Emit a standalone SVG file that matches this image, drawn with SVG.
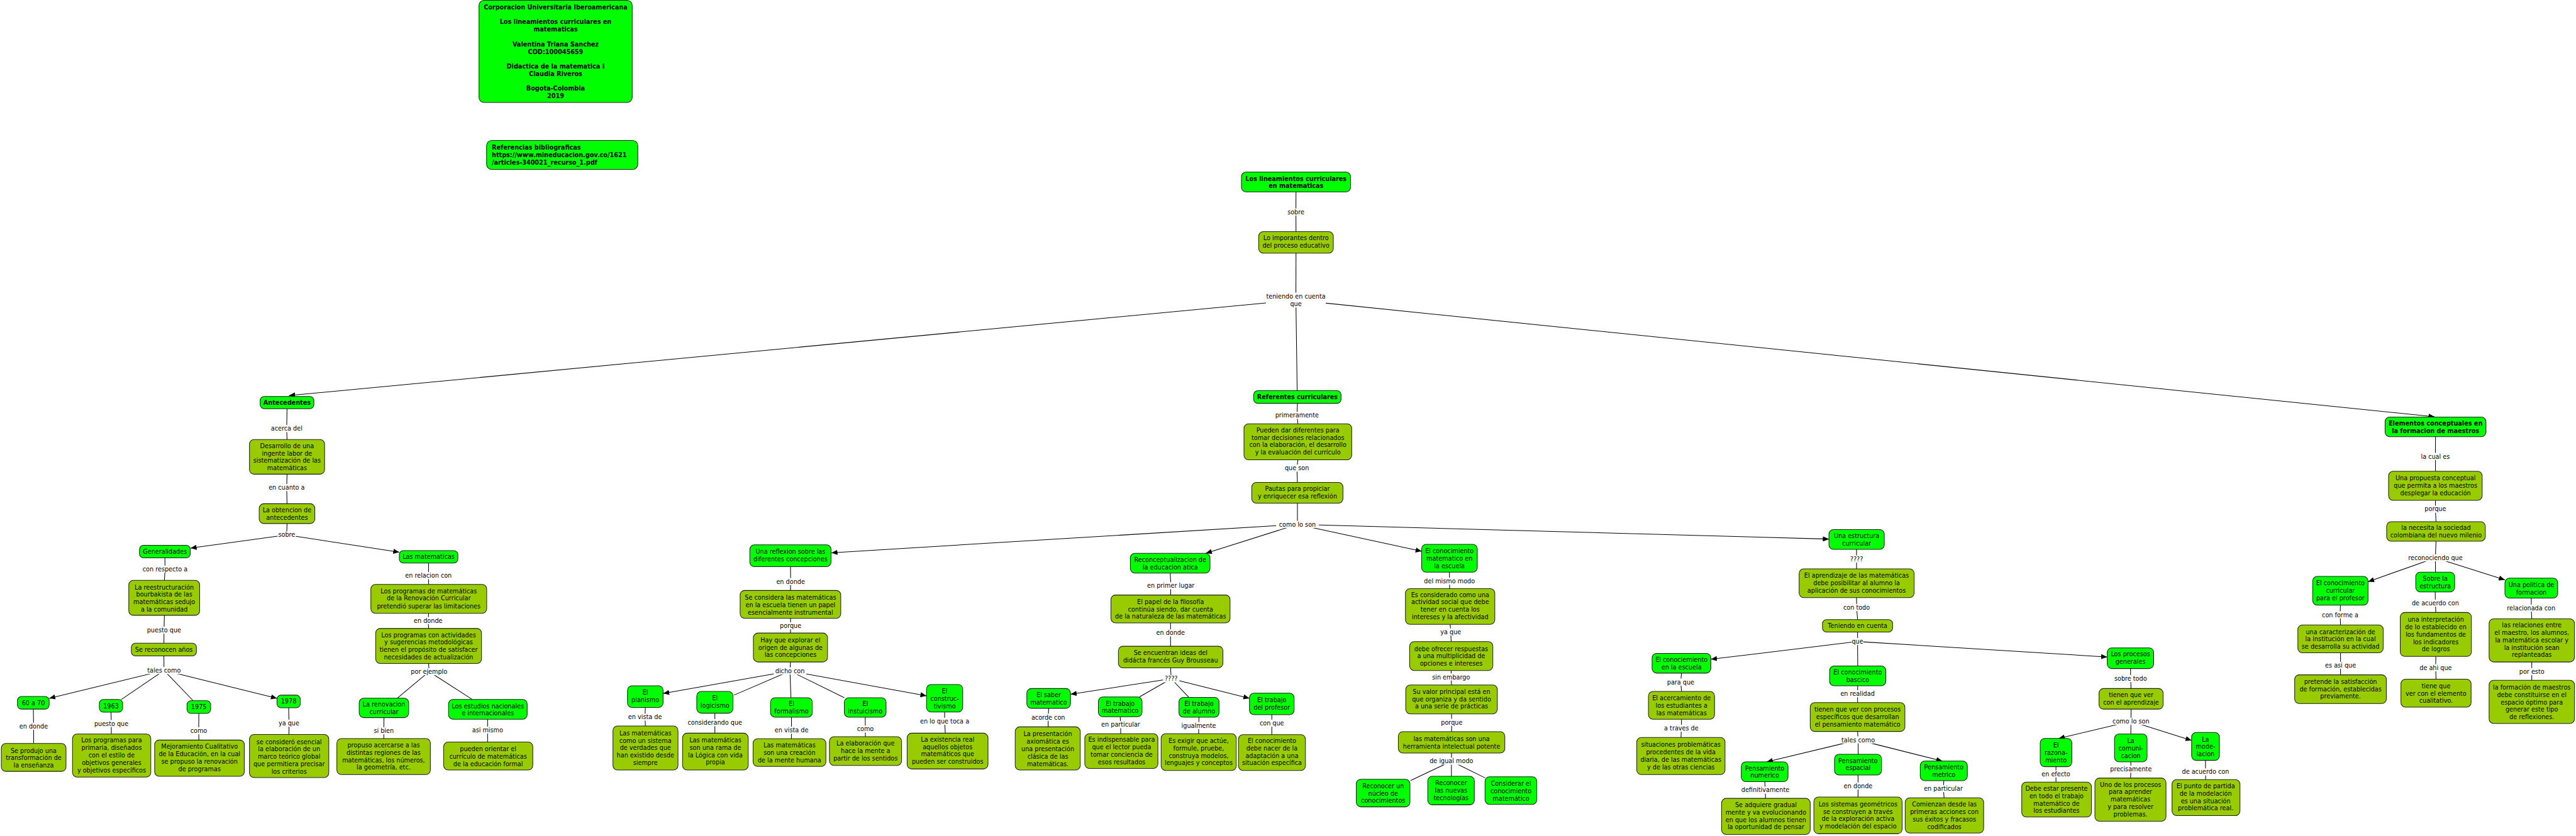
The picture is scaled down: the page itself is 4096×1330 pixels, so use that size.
<svg xmlns="http://www.w3.org/2000/svg" width="4096" height="1330" viewBox="0 0 4096 1330">
<defs>
<style>
.n1{fill:#00ff00;stroke:#1e1e1e;stroke-width:1.3}
.n2{fill:#99cc00;stroke:#1e1e1e;stroke-width:1.3}
text{font-family:"DejaVu Sans",Verdana,sans-serif;font-size:12px;fill:#000;text-anchor:middle}
.b{font-weight:bold}
.l{text-anchor:start}
.c{fill:none;stroke:#000;stroke-width:1.3}
.a{marker-end:url(#ah)}
.lb{fill:#fff}
</style>
<marker id="ah" markerWidth="12" markerHeight="10" refX="12" refY="5" orient="auto" markerUnits="userSpaceOnUse"><path d="M0,0L12,5L0,10z" fill="#000"/></marker>
</defs>
<rect x="0" y="0" width="4096" height="1330" fill="#fff"/>
<g transform="scale(0.8068)">
<g id="connectors">
<path class="c" d="M2554.2,378.3L2554,418L2554.2,456.7"/>
<path class="c" d="M2554.2,499.3L2554,591.7"/>
<path class="c a" d="M2554,591.7L569.5,780"/>
<path class="c" d="M2554,591.7L2556.5,770.3"/>
<path class="c a" d="M2554,591.7L4798,821.8"/>
<path class="c" d="M565.7,806L565,845L565.7,866.7"/>
<path class="c" d="M565.7,935L565,961.3L565.7,993.3"/>
<path class="c" d="M565.7,1032.3L565,1054.7"/>
<path class="c a" d="M565,1054.7L375.5,1080.8"/>
<path class="c a" d="M565,1054.7L787,1088.8"/>
<path class="c" d="M325,1100L325.3,1122.3L324,1144.3"/>
<path class="c" d="M324,1213.3L323.3,1242.7L323,1268.3"/>
<path class="c" d="M323,1293.3L323.3,1322"/>
<path class="c a" d="M323.3,1322L97,1377"/>
<path class="c" d="M323.3,1322L239,1379.3"/>
<path class="c" d="M323.3,1322L380.7,1381.7"/>
<path class="c a" d="M323.3,1322L545.9,1377"/>
<path class="c" d="M65.7,1398.3L66.3,1432L66.3,1466"/>
<path class="c" d="M218.8,1404.3L219.4,1426.7L219.4,1447.3"/>
<path class="c" d="M391.9,1406.7L391.6,1441L391.9,1459.3"/>
<path class="c" d="M568.9,1395.7L569.5,1426L569.5,1448.3"/>
<path class="c" d="M844.7,1110.3L844.4,1135L844.7,1152.3"/>
<path class="c" d="M844.7,1209.3L843.8,1223.7L844.7,1239.3"/>
<path class="c" d="M844.7,1308.3L845.7,1324.3"/>
<path class="c" d="M845.7,1324.3L783.2,1376.7"/>
<path class="c" d="M845.7,1324.3L931,1379.3"/>
<path class="c" d="M756.7,1415L756.4,1441L756.4,1456.3"/>
<path class="c" d="M961,1418.3L961,1439.7L961,1463.3"/>
<path class="c" d="M2557,795.3L2556.2,819L2557.9,835.7"/>
<path class="c" d="M2557.9,906.7L2556,923L2557,951.3"/>
<path class="c" d="M2557,992.3L2557,1034"/>
<path class="c a" d="M2557,1034L1638.5,1090"/>
<path class="c a" d="M2557,1034L2376.4,1091"/>
<path class="c a" d="M2557,1034L2801.8,1087"/>
<path class="c a" d="M2557,1034L3604.5,1063"/>
<path class="c" d="M1557.9,1117.3L1558.2,1146.7L1557.9,1164.3"/>
<path class="c" d="M1557.9,1219.3L1558.2,1234L1557.9,1248.3"/>
<path class="c" d="M1557.9,1305.3L1556.9,1323"/>
<path class="c a" d="M1556.9,1323L1307,1367.5"/>
<path class="c" d="M1556.9,1323L1446.6,1370.7"/>
<path class="c" d="M1556.9,1323L1558.8,1375.7"/>
<path class="c" d="M1556.9,1323L1664,1375.7"/>
<path class="c a" d="M1556.9,1323L1826,1372"/>
<path class="c" d="M1271.8,1395L1271.2,1414L1272,1431.7"/>
<path class="c" d="M1408.9,1406.3L1408.9,1425L1408.9,1445.7"/>
<path class="c" d="M1559.8,1414.3L1560,1440L1559.8,1456.7"/>
<path class="c" d="M1705.2,1414.3L1705.5,1437.7L1705.5,1452.7"/>
<path class="c" d="M1861.7,1404L1861.7,1422.3L1863,1445.7"/>
<path class="c" d="M2066.8,1396.7L2065.8,1414.3L2065.8,1433.3"/>
<path class="c" d="M2306.3,1130L2307.5,1155L2307,1173.3"/>
<path class="c" d="M2307,1228.3L2306.9,1248L2307,1274.3"/>
<path class="c" d="M2307,1317L2308.2,1338.3"/>
<path class="c a" d="M2308.2,1338.3L2110,1369"/>
<path class="c" d="M2308.2,1338.3L2245.7,1374.3"/>
<path class="c" d="M2308.2,1338.3L2343.2,1375.3"/>
<path class="c a" d="M2308.2,1338.3L2462.5,1377"/>
<path class="c" d="M2207.7,1413.3L2208.7,1429L2208.7,1446.7"/>
<path class="c" d="M2363,1414.3L2362.4,1430.7L2362.4,1446.7"/>
<path class="c" d="M2506.5,1409.3L2506.5,1426L2506.5,1448.7"/>
<path class="c" d="M2856.6,1128.3L2856.6,1146L2857,1160.7"/>
<path class="c" d="M2858,1231L2859.2,1246L2860,1265.3"/>
<path class="c" d="M2860,1322.3L2859.8,1335L2860.7,1350.7"/>
<path class="c" d="M2860.7,1407.7L2861.1,1424.3L2860.8,1442.7"/>
<path class="c" d="M2860.8,1485L2860.5,1501"/>
<path class="c" d="M2860.5,1501L2780,1539"/>
<path class="c" d="M2860.5,1501L2860.5,1530.7"/>
<path class="c" d="M2860.5,1501L2927,1534"/>
<path class="c" d="M3659,1083.3L3659,1102.3L3659,1121.7"/>
<path class="c" d="M3659,1178.3L3659,1198L3661,1221.7"/>
<path class="c" d="M3661,1246.3L3660.9,1265"/>
<path class="c a" d="M3660.9,1265L3371.8,1300"/>
<path class="c" d="M3660.9,1265L3661.3,1313.3"/>
<path class="c a" d="M3660.9,1265L4153,1295.5"/>
<path class="c" d="M3313.9,1327.3L3312.4,1345L3314,1363.3"/>
<path class="c" d="M3314,1418.3L3313.6,1436L3313,1454.3"/>
<path class="c" d="M3661.2,1352.3L3660.9,1368L3661,1385.3"/>
<path class="c" d="M3661,1442.3L3662.1,1459"/>
<path class="c a" d="M3662.1,1459L3482,1502.3"/>
<path class="c" d="M3662.1,1459L3662.2,1487.3"/>
<path class="c a" d="M3662.1,1459L3828,1500.7"/>
<path class="c" d="M3478,1541.3L3479.1,1558L3479.5,1574.3"/>
<path class="c" d="M3661.8,1528.3L3662.1,1550L3661.8,1571.7"/>
<path class="c" d="M3830.9,1539.3L3830,1555L3831.5,1573.3"/>
<path class="c" d="M4199,1318.3L4199,1338L4200,1357.7"/>
<path class="c" d="M4200,1398.3L4199.7,1422.3"/>
<path class="c a" d="M4199.7,1422.3L4057.3,1456"/>
<path class="c" d="M4199.7,1422.3L4199.5,1447.3"/>
<path class="c a" d="M4199.7,1422.3L4319.3,1460"/>
<path class="c" d="M4052,1511.7L4051.8,1526L4052,1542.3"/>
<path class="c" d="M4199.4,1502.3L4199.7,1516.7L4199,1534.3"/>
<path class="c" d="M4346.7,1499.3L4346.7,1522L4347,1537.3"/>
<path class="c" d="M4800,861L4799.7,900L4800,929.3"/>
<path class="c" d="M4800,986.7L4799.7,1004L4801,1028.7"/>
<path class="c" d="M4801,1067.3L4799.7,1100"/>
<path class="c a" d="M4799.7,1100L4667,1147"/>
<path class="c" d="M4799.7,1100L4800,1128.3"/>
<path class="c a" d="M4799.7,1100L4936.8,1143.5"/>
<path class="c" d="M4612.5,1193.3L4612.1,1212.3L4612.8,1232.3"/>
<path class="c" d="M4612.8,1287.3L4612.8,1312L4612.8,1330.7"/>
<path class="c" d="M4799.4,1167.3L4799.7,1189.3L4800.6,1207.7"/>
<path class="c" d="M4800.6,1294.3L4800.3,1316.7L4801,1339.3"/>
<path class="c" d="M4988.8,1179.3L4988.5,1199L4989.7,1220.3"/>
<path class="c" d="M4989.7,1305.3L4989.7,1324.3L4989.7,1341.3"/>
<g id="labels">
<rect class="lb" x="2536" y="411" width="36" height="14"/><text x="2554" y="422.3">sobre</text>
<rect class="lb" x="2495" y="577" width="118" height="29.5"/><text x="2554" y="588.3">teniendo en cuenta</text><text x="2554" y="603">que</text>
<rect class="lb" x="529.5" y="838" width="71" height="14"/><text x="565" y="849.3">acerca del</text>
<rect class="lb" x="526" y="954.3" width="78" height="14"/><text x="565" y="965.6">en cuanto a</text>
<rect class="lb" x="547" y="1047.7" width="36" height="14"/><text x="565" y="1059">sobre</text>
<rect class="lb" x="276" y="1115.3" width="99" height="14"/><text x="325.3" y="1126.6">con respecto a</text>
<rect class="lb" x="288" y="1235.7" width="71" height="14"/><text x="323.3" y="1247">puesto que</text>
<rect class="lb" x="288" y="1315" width="71" height="14"/><text x="323.3" y="1326.3">tales como</text>
<rect class="lb" x="38" y="1425" width="57" height="14"/><text x="66.3" y="1436.3">en donde</text>
<rect class="lb" x="184" y="1419.7" width="71" height="14"/><text x="219.4" y="1431">puesto que</text>
<rect class="lb" x="376.6" y="1434" width="30" height="14"/><text x="391.6" y="1445.3">como</text>
<rect class="lb" x="548" y="1419" width="43" height="14"/><text x="569.5" y="1430.3">ya que</text>
<rect class="lb" x="791.4" y="1128" width="106" height="14"/><text x="844.4" y="1139.3">en relacion con</text>
<rect class="lb" x="815.3" y="1216.7" width="57" height="14"/><text x="843.8" y="1228">en donde</text>
<rect class="lb" x="806.7" y="1317.3" width="78" height="14"/><text x="845.7" y="1328.6">por ejemplo</text>
<rect class="lb" x="731.4" y="1434" width="50" height="14"/><text x="756.4" y="1445.3">si bien</text>
<rect class="lb" x="929" y="1432.7" width="64" height="14"/><text x="961" y="1444">asi mismo</text>
<rect class="lb" x="2513.7" y="812" width="85" height="14"/><text x="2556.2" y="823.3">primeramente</text>
<rect class="lb" x="2531" y="916" width="50" height="14"/><text x="2556" y="927.3">que son</text>
<rect class="lb" x="2515" y="1027" width="84" height="14"/><text x="2557" y="1038.3">como lo son</text>
<rect class="lb" x="1529.7" y="1139.7" width="57" height="14"/><text x="1558.2" y="1151">en donde</text>
<rect class="lb" x="1536.7" y="1227" width="43" height="14"/><text x="1558.2" y="1238.3">porque</text>
<rect class="lb" x="1524.9" y="1316" width="64" height="14"/><text x="1556.9" y="1327.3">dicho con</text>
<rect class="lb" x="1232.2" y="1407" width="78" height="14"/><text x="1271.2" y="1418.3">en vista de</text>
<rect class="lb" x="1352.9" y="1418" width="112" height="14"/><text x="1408.9" y="1429.3">considerando que</text>
<rect class="lb" x="1521" y="1433" width="78" height="14"/><text x="1560" y="1444.3">en vista de</text>
<rect class="lb" x="1690.5" y="1430.7" width="30" height="14"/><text x="1705.5" y="1442">como</text>
<rect class="lb" x="1805.7" y="1415.3" width="112" height="14"/><text x="1861.7" y="1426.6">en lo que toca a</text>
<rect class="lb" x="2030.3" y="1407.3" width="71" height="14"/><text x="2065.8" y="1418.6">acorde con</text>
<rect class="lb" x="2254.5" y="1148" width="106" height="14"/><text x="2307.5" y="1159.3">en primer lugar</text>
<rect class="lb" x="2278.4" y="1241" width="57" height="14"/><text x="2306.9" y="1252.3">en donde</text>
<rect class="lb" x="2292.2" y="1331.3" width="32" height="14"/><text x="2308.2" y="1342.6">????</text>
<rect class="lb" x="2162.7" y="1422" width="92" height="14"/><text x="2208.7" y="1433.3">en particular</text>
<rect class="lb" x="2326.9" y="1423.7" width="71" height="14"/><text x="2362.4" y="1435">igualmente</text>
<rect class="lb" x="2481.5" y="1419" width="50" height="14"/><text x="2506.5" y="1430.3">con que</text>
<rect class="lb" x="2807.1" y="1139" width="99" height="14"/><text x="2856.6" y="1150.3">del mismo modo</text>
<rect class="lb" x="2837.7" y="1239" width="43" height="14"/><text x="2859.2" y="1250.3">ya que</text>
<rect class="lb" x="2820.8" y="1328" width="78" height="14"/><text x="2859.8" y="1339.3">sin embargo</text>
<rect class="lb" x="2839.6" y="1417.3" width="43" height="14"/><text x="2861.1" y="1428.6">porque</text>
<rect class="lb" x="2814.5" y="1494" width="92" height="14"/><text x="2860.5" y="1505.3">de igual modo</text>
<rect class="lb" x="3643" y="1095.3" width="32" height="14"/><text x="3659" y="1106.6">????</text>
<rect class="lb" x="3630.5" y="1191" width="57" height="14"/><text x="3659" y="1202.3">con todo</text>
<rect class="lb" x="3649.4" y="1258" width="23" height="14"/><text x="3660.9" y="1269.3">que</text>
<rect class="lb" x="3283.9" y="1338" width="57" height="14"/><text x="3312.4" y="1349.3">para que</text>
<rect class="lb" x="3274.6" y="1429" width="78" height="14"/><text x="3313.6" y="1440.3">a traves de</text>
<rect class="lb" x="3621.9" y="1361" width="78" height="14"/><text x="3660.9" y="1372.3">en realidad</text>
<rect class="lb" x="3626.6" y="1452" width="71" height="14"/><text x="3662.1" y="1463.3">tales como</text>
<rect class="lb" x="3426.1" y="1551" width="106" height="14"/><text x="3479.1" y="1562.3">definitivamente</text>
<rect class="lb" x="3633.6" y="1543" width="57" height="14"/><text x="3662.1" y="1554.3">en donde</text>
<rect class="lb" x="3784" y="1548" width="92" height="14"/><text x="3830" y="1559.3">en particular</text>
<rect class="lb" x="4019.8" y="1519" width="64" height="14"/><text x="4051.8" y="1530.3">en efecto</text>
<rect class="lb" x="4163.5" y="1331" width="71" height="14"/><text x="4199" y="1342.3">sobre todo</text>
<rect class="lb" x="4158.7" y="1415.3" width="82" height="14"/><text x="4199.7" y="1426.6">como lo son</text>
<rect class="lb" x="4157.2" y="1509.7" width="85" height="14"/><text x="4199.7" y="1521">precisamente</text>
<rect class="lb" x="4297.2" y="1515" width="99" height="14"/><text x="4346.7" y="1526.3">de acuerdo con</text>
<rect class="lb" x="4764.2" y="893" width="71" height="14"/><text x="4799.7" y="904.3">la cual es</text>
<rect class="lb" x="4778.2" y="997" width="43" height="14"/><text x="4799.7" y="1008.3">porque</text>
<rect class="lb" x="4743.7" y="1093" width="112" height="14"/><text x="4799.7" y="1104.3">reconociendo que</text>
<rect class="lb" x="4573.1" y="1205.3" width="78" height="14"/><text x="4612.1" y="1216.6">con forme a</text>
<rect class="lb" x="4577.3" y="1305" width="71" height="14"/><text x="4612.8" y="1316.3">es asi que</text>
<rect class="lb" x="4750.2" y="1182.3" width="99" height="14"/><text x="4799.7" y="1193.6">de acuerdo con</text>
<rect class="lb" x="4764.8" y="1309.7" width="71" height="14"/><text x="4800.3" y="1321">de ahi que</text>
<rect class="lb" x="4935.5" y="1192" width="106" height="14"/><text x="4988.5" y="1203.3">relacionada con</text>
<rect class="lb" x="4961.2" y="1317.3" width="57" height="14"/><text x="4989.7" y="1328.6">por esto</text>
</g>
</g>
<g id="nodes">
<g id="n-header"><rect class="n1" x="944" y="0.7" width="302" height="201.3" rx="10"/><text class="b"><tspan x="1095" y="18.3">Corporacion Universitaria Iberoamericana</tspan><tspan x="1095" y="47.6">Los lineamientos curriculares en</tspan><tspan x="1095" y="62.2">matematicas</tspan><tspan x="1095" y="91.4">Valentina Triana Sanchez</tspan><tspan x="1095" y="106">COD:100045659</tspan><tspan x="1095" y="135.2">Didactica de la matematica I</tspan><tspan x="1095" y="149.8">Claudia Riveros</tspan><tspan x="1095" y="179">Bogota-Colombia</tspan><tspan x="1095" y="193.6">2019</tspan></text></g>
<g id="n-ref"><rect class="n1" x="959" y="277" width="298" height="57" rx="10"/><text class="b l"><tspan x="969.3" y="295">Referencias bibliograficas</tspan><tspan x="969.3" y="309.6">https://www.mineducacion.gov.co/1621</tspan><tspan x="969.3" y="324.6">/articles-340021_recurso_1.pdf</tspan></text></g>
<g id="n-lineamientos"><rect class="n1" x="2446.7" y="339.3" width="215" height="39" rx="9"/><text class="b"><tspan x="2554.2" y="356.6">Los lineamientos curriculares</tspan><tspan x="2554.2" y="370.3">en matematicas</tspan></text></g>
<g id="n-importantes"><rect class="n2" x="2480.7" y="456.7" width="147" height="42.6" rx="9"/><text><tspan x="2554.2" y="473.6">Lo imporantes dentro</tspan><tspan x="2554.2" y="488.6">del proceso educativo</tspan></text></g>
<g id="n-antecedentes"><rect class="n1" x="512.8" y="781.7" width="105.8" height="24.3" rx="8"/><text class="b" x="565.7" y="798.2">Antecedentes</text></g>
<g id="n-desarrollo"><rect class="n2" x="491.7" y="866.7" width="148" height="68.3" rx="9"/><text><tspan x="565.7" y="883.3">Desarrollo de una</tspan><tspan x="565.7" y="898">ingente labor de</tspan><tspan x="565.7" y="912.6">sistematización de las</tspan><tspan x="565.7" y="927.3">matemáticas</tspan></text></g>
<g id="n-obtencion"><rect class="n2" x="510.8" y="993.3" width="109.7" height="39" rx="9"/><text><tspan x="565.7" y="1010.3">La obtencion de</tspan><tspan x="565.7" y="1025">antecedentes</tspan></text></g>
<g id="n-generalidades"><rect class="n1" x="274.9" y="1075.3" width="100.1" height="24.7" rx="8"/><text x="325" y="1092">Generalidades</text></g>
<g id="n-reestructuracion"><rect class="n2" x="253.8" y="1144.3" width="139.7" height="69" rx="9"/><text><tspan x="323.7" y="1162">La reestructuración</tspan><tspan x="323.7" y="1176.6">bourbakista de las</tspan><tspan x="323.7" y="1191.3">matemáticas sedujo</tspan><tspan x="323.7" y="1206">a la comunidad</tspan></text></g>
<g id="n-reconocen"><rect class="n2" x="258.9" y="1268.3" width="128.2" height="25" rx="8"/><text x="323" y="1285.3">Se reconocen años</text></g>
<g id="n-6070"><rect class="n1" x="34.4" y="1373.3" width="62.5" height="25" rx="8"/><text x="65.7" y="1390.3">60 a 70</text></g>
<g id="n-produjo"><rect class="n2" x="2.6" y="1466" width="127.5" height="55" rx="9"/><text><tspan x="66.3" y="1484.3">Se produjo una</tspan><tspan x="66.3" y="1499">transformación de</tspan><tspan x="66.3" y="1513.6">la enseñanza</tspan></text></g>
<g id="n-1963"><rect class="n1" x="195.8" y="1379.3" width="45.9" height="25" rx="8"/><text x="218.8" y="1396.3">1963</text></g>
<g id="n-programas-primaria"><rect class="n2" x="142.9" y="1447.3" width="154.3" height="85" rx="9"/><text><tspan x="220" y="1464.3">Los programas para</tspan><tspan x="220" y="1479">primaria, diseñados</tspan><tspan x="220" y="1493.6">con el estilo de</tspan><tspan x="220" y="1508.3">objetivos generales</tspan><tspan x="220" y="1523">y objetivos específicos</tspan></text></g>
<g id="n-1975"><rect class="n1" x="368.6" y="1381.7" width="46.6" height="25" rx="8"/><text x="391.9" y="1398.3">1975</text></g>
<g id="n-mejoramiento"><rect class="n2" x="304.8" y="1459.3" width="176.7" height="71.4" rx="9"/><text><tspan x="393.2" y="1476.3">Mejoramiento Cualitativo</tspan><tspan x="393.2" y="1491">de la Educación, en la cual</tspan><tspan x="393.2" y="1505.6">se propuso la renovación</tspan><tspan x="393.2" y="1520.3">de programas</tspan></text></g>
<g id="n-1978"><rect class="n1" x="545.9" y="1370.7" width="45.9" height="25" rx="8"/><text x="568.9" y="1387.3">1978</text></g>
<g id="n-considero"><rect class="n2" x="491.7" y="1448.3" width="156.3" height="85" rx="9"/><text><tspan x="569.8" y="1467.3">se consideró esencial</tspan><tspan x="569.8" y="1481.6">la elaboración de un</tspan><tspan x="569.8" y="1496.3">marco teórico global</tspan><tspan x="569.8" y="1511">que permitiera precisar</tspan><tspan x="569.8" y="1525.3">los criterios</tspan></text></g>
<g id="n-las-matematicas"><rect class="n1" x="787" y="1085.7" width="115.4" height="24.6" rx="8"/><text x="844.7" y="1102.3">Las matematicas</text></g>
<g id="n-programas-renovacion"><rect class="n2" x="730.9" y="1152.3" width="228.3" height="57" rx="9"/><text><tspan x="845" y="1170">Los programas de matemáticas</tspan><tspan x="845" y="1184.3">de la Renovación Curricular</tspan><tspan x="845" y="1199.3">pretendió superar las limitaciones</tspan></text></g>
<g id="n-programas-actividades"><rect class="n2" x="740.4" y="1239.3" width="208.6" height="69" rx="9"/><text><tspan x="844.7" y="1256.3">Los programas con actividades</tspan><tspan x="844.7" y="1271">y sugerencias metodológicas</tspan><tspan x="844.7" y="1285.6">tienen el propósito de satisfacer</tspan><tspan x="844.7" y="1300.3">necesidades de actualización</tspan></text></g>
<g id="n-renovacion"><rect class="n1" x="707.9" y="1376.7" width="97.6" height="38.3" rx="9"/><text><tspan x="756.7" y="1393.3">La renovacion</tspan><tspan x="756.7" y="1408">curricular</tspan></text></g>
<g id="n-propuso"><rect class="n2" x="663.9" y="1456.3" width="184.3" height="71" rx="9"/><text><tspan x="756" y="1473.6">propuso acercarse a las</tspan><tspan x="756" y="1488.3">distintas regiones de las</tspan><tspan x="756" y="1503">matemáticas, los números,</tspan><tspan x="756" y="1517.3">la geometría, etc.</tspan></text></g>
<g id="n-estudios"><rect class="n1" x="884" y="1379.3" width="155" height="39" rx="9"/><text><tspan x="961.5" y="1396.3">Los estudios nacionales</tspan><tspan x="961.5" y="1411">e internacionales</tspan></text></g>
<g id="n-orientar"><rect class="n2" x="874.4" y="1463.3" width="175.6" height="55" rx="9"/><text><tspan x="962" y="1481">pueden orientar el</tspan><tspan x="962" y="1495.6">currículo de matemáticas</tspan><tspan x="962" y="1510.3">de la educación formal</tspan></text></g>
<g id="n-reflexion"><rect class="n1" x="1477.8" y="1074.3" width="160.1" height="43" rx="9"/><text><tspan x="1557.9" y="1092.3">Una reflexion sobre las</tspan><tspan x="1557.9" y="1107">diferentes concepciones</tspan></text></g>
<g id="n-considera"><rect class="n2" x="1458.7" y="1164.3" width="198.3" height="55" rx="9"/><text><tspan x="1557.9" y="1182.3">Se considera las matemáticas</tspan><tspan x="1557.9" y="1197">en la escuela tienen un papel</tspan><tspan x="1557.9" y="1211.6">esencialmente instrumental</tspan></text></g>
<g id="n-explorar"><rect class="n2" x="1484.8" y="1248.3" width="146.1" height="57" rx="9"/><text><tspan x="1557.9" y="1266.3">Hay que explorar el</tspan><tspan x="1557.9" y="1281">origen de algunas de</tspan><tspan x="1557.9" y="1295.6">las concepciones</tspan></text></g>
<g id="n-planismo"><rect class="n1" x="1236.7" y="1352.3" width="70.2" height="42.7" rx="9"/><text><tspan x="1271.8" y="1370">El</tspan><tspan x="1271.8" y="1384.6">planismo</tspan></text></g>
<g id="n-sistema"><rect class="n2" x="1208" y="1431.7" width="128.2" height="86.6" rx="9"/><text><tspan x="1272" y="1450">Las matemáticas</tspan><tspan x="1272" y="1464.6">como un sistema</tspan><tspan x="1272" y="1479.3">de verdades que</tspan><tspan x="1272" y="1494">han existido desde</tspan><tspan x="1272" y="1508.3">siempre</tspan></text></g>
<g id="n-logicismo"><rect class="n1" x="1373.2" y="1363.3" width="71.4" height="43" rx="9"/><text><tspan x="1408.9" y="1381">El</tspan><tspan x="1408.9" y="1395.6">logicismo</tspan></text></g>
<g id="n-rama"><rect class="n2" x="1345.2" y="1445.7" width="129.4" height="72.6" rx="9"/><text><tspan x="1409.9" y="1464">Las matemáticas</tspan><tspan x="1409.9" y="1478.6">son una rama de</tspan><tspan x="1409.9" y="1493.3">la Lógica con vida</tspan><tspan x="1409.9" y="1507.6">propia</tspan></text></g>
<g id="n-formalismo"><rect class="n1" x="1518.6" y="1375.7" width="82.3" height="38.6" rx="9"/><text><tspan x="1559.8" y="1392.3">El</tspan><tspan x="1559.8" y="1407">formalismo</tspan></text></g>
<g id="n-creacion"><rect class="n2" x="1484.2" y="1456.7" width="143.5" height="54.6" rx="9"/><text><tspan x="1556" y="1474">Las matemáticas</tspan><tspan x="1556" y="1488.6">son una creación</tspan><tspan x="1556" y="1503.3">de la mente humana</tspan></text></g>
<g id="n-instuicismo"><rect class="n1" x="1664" y="1375.7" width="82.3" height="38.6" rx="9"/><text><tspan x="1705.2" y="1392.3">El</tspan><tspan x="1705.2" y="1407">instuicismo</tspan></text></g>
<g id="n-elaboracion"><rect class="n2" x="1634.7" y="1452.7" width="142.2" height="56.6" rx="9"/><text><tspan x="1705.8" y="1470">La elaboración que</tspan><tspan x="1705.8" y="1484.6">hace la mente a</tspan><tspan x="1705.8" y="1499.3">partir de los sentidos</tspan></text></g>
<g id="n-constructivismo"><rect class="n1" x="1826" y="1349.7" width="71.4" height="54.3" rx="9"/><text><tspan x="1861.7" y="1367">El</tspan><tspan x="1861.7" y="1382">construc-</tspan><tspan x="1861.7" y="1396.3">tivismo</tspan></text></g>
<g id="n-existencia"><rect class="n2" x="1787.8" y="1445.7" width="159.4" height="70.6" rx="9"/><text><tspan x="1867.5" y="1462">La existencia real</tspan><tspan x="1867.5" y="1477">aquellos objetos</tspan><tspan x="1867.5" y="1491.6">matemáticos que</tspan><tspan x="1867.5" y="1506.3">pueden ser construidos</tspan></text></g>
<g id="n-saber"><rect class="n1" x="2023.7" y="1357.7" width="86.1" height="39" rx="9"/><text><tspan x="2066.8" y="1374.3">El saber</tspan><tspan x="2066.8" y="1389">matematico</tspan></text></g>
<g id="n-presentacion"><rect class="n2" x="2000.8" y="1433.3" width="128.2" height="85" rx="9"/><text><tspan x="2065" y="1452">La presentación</tspan><tspan x="2065" y="1466.6">axiomática es</tspan><tspan x="2065" y="1481.3">una presentación</tspan><tspan x="2065" y="1496">clásica de las</tspan><tspan x="2065" y="1510.3">matemáticas.</tspan></text></g>
<g id="n-referentes"><rect class="n1" x="2470.8" y="770.3" width="172.2" height="25" rx="8"/><text class="b" x="2557" y="787.3">Referentes curriculares</text></g>
<g id="n-pueden-dar"><rect class="n2" x="2451.7" y="835.7" width="212.3" height="71" rx="9"/><text><tspan x="2557.9" y="852.6">Pueden dar diferentes para</tspan><tspan x="2557.9" y="867.3">tomar decisiones relacionados</tspan><tspan x="2557.9" y="881.6">con la elaboración, el desarrollo</tspan><tspan x="2557.9" y="896.3">y la evaluación del currículo</tspan></text></g>
<g id="n-pautas"><rect class="n2" x="2467" y="951.3" width="179.8" height="41" rx="9"/><text><tspan x="2557" y="968.3">Pautas para propiciar</tspan><tspan x="2557" y="982.6">y enriquecer esa reflexión</tspan></text></g>
<g id="n-reconceptualizacion"><rect class="n1" x="2227.8" y="1091" width="156.9" height="39" rx="9"/><text><tspan x="2306.3" y="1108">Reconceptualizacion de</tspan><tspan x="2306.3" y="1122.6">la educacion atica</tspan></text></g>
<g id="n-papel"><rect class="n2" x="2189.5" y="1173.3" width="234.7" height="55" rx="9"/><text><tspan x="2307" y="1191">El papel de la filosofía</tspan><tspan x="2307" y="1205.6">continúa siendo, dar cuenta</tspan><tspan x="2307" y="1220">de la naturaleza de las matemáticas</tspan></text></g>
<g id="n-brousseau"><rect class="n2" x="2204.2" y="1274.3" width="206" height="42.7" rx="9"/><text><tspan x="2307" y="1292">Se encuentran ideas del</tspan><tspan x="2307" y="1306.6">didácta francés Guy Brousseau</tspan></text></g>
<g id="n-trabajo-mat"><rect class="n1" x="2164.7" y="1374.3" width="86.1" height="39" rx="9"/><text><tspan x="2207.7" y="1391.3">El trabajo</tspan><tspan x="2207.7" y="1406">matematico</tspan></text></g>
<g id="n-indispensable"><rect class="n2" x="2138" y="1446.7" width="144" height="68.6" rx="9"/><text><tspan x="2210.5" y="1463">Es indispensable para</tspan><tspan x="2210.5" y="1477.6">que el lector pueda</tspan><tspan x="2210.5" y="1492.3">tomar conciencia de</tspan><tspan x="2210.5" y="1507">esos resultados</tspan></text></g>
<g id="n-trabajo-alumno"><rect class="n1" x="2323.5" y="1375.3" width="79.1" height="39" rx="9"/><text><tspan x="2363" y="1392.3">El trabajo</tspan><tspan x="2363" y="1407">de alumno</tspan></text></g>
<g id="n-exigir"><rect class="n2" x="2288.4" y="1446.7" width="148" height="72.6" rx="9"/><text><tspan x="2362.4" y="1465.3">Es exigir que actúe,</tspan><tspan x="2362.4" y="1479.6">formule, pruebe,</tspan><tspan x="2362.4" y="1494.3">construya modelos,</tspan><tspan x="2362.4" y="1508.6">lenguajes y conceptos</tspan></text></g>
<g id="n-trabajo-profesor"><rect class="n1" x="2462.5" y="1366.7" width="88" height="42.6" rx="9"/><text><tspan x="2506.5" y="1384.3">El trabajo</tspan><tspan x="2506.5" y="1399">del profesor</tspan></text></g>
<g id="n-nacer"><rect class="n2" x="2440.8" y="1448.7" width="132" height="70.6" rx="9"/><text><tspan x="2506.8" y="1465.3">El conocimiento</tspan><tspan x="2506.8" y="1480">debe nacer de la</tspan><tspan x="2506.8" y="1494.6">adaptación a una</tspan><tspan x="2506.8" y="1509">situación específica</tspan></text></g>
<g id="n-conocimiento-escuela"><rect class="n1" x="2801.8" y="1073.3" width="109.7" height="55" rx="9"/><text><tspan x="2856.6" y="1091.3">El conocimiento</tspan><tspan x="2856.6" y="1106">matematico en</tspan><tspan x="2856.6" y="1120.6">la escuela</tspan></text></g>
<g id="n-considerado"><rect class="n2" x="2769.9" y="1160.7" width="176.1" height="70.3" rx="9"/><text><tspan x="2858" y="1177.3">Es considerado como una</tspan><tspan x="2858" y="1191.6">actividad social que debe</tspan><tspan x="2858" y="1206.3">tener en cuenta los</tspan><tspan x="2858" y="1221">intereses y la afectividad</tspan></text></g>
<g id="n-ofrecer"><rect class="n2" x="2778.2" y="1265.3" width="163.9" height="57" rx="9"/><text><tspan x="2860" y="1283.6">debe ofrecer respuestas</tspan><tspan x="2860" y="1298.3">a una multiplicidad de</tspan><tspan x="2860" y="1313">opciones e intereses</tspan></text></g>
<g id="n-valor"><rect class="n2" x="2770.5" y="1350.7" width="180.5" height="57" rx="9"/><text><tspan x="2860.7" y="1368.3">Su valor principal está en</tspan><tspan x="2860.7" y="1383">que organiza y da sentido</tspan><tspan x="2860.7" y="1397.3">a una serie de prácticas</tspan></text></g>
<g id="n-herramienta"><rect class="n2" x="2755.9" y="1442.7" width="209.8" height="42.3" rx="9"/><text><tspan x="2860.8" y="1461">las matemáticas son una</tspan><tspan x="2860.8" y="1475.6">herramienta intelectual potente</tspan></text></g>
<g id="n-nucleo"><rect class="n1" x="2673" y="1536.7" width="105.8" height="54.3" rx="9"/><text><tspan x="2725.9" y="1554">Reconocer un</tspan><tspan x="2725.9" y="1568.6">núcleo de</tspan><tspan x="2725.9" y="1583.3">conocimientos</tspan></text></g>
<g id="n-tecnologias"><rect class="n1" x="2813.9" y="1530.7" width="91.8" height="56.3" rx="9"/><text><tspan x="2859.8" y="1548.3">Reconocer</tspan><tspan x="2859.8" y="1563">las nuevas</tspan><tspan x="2859.8" y="1577.6">tecnologías</tspan></text></g>
<g id="n-considerar"><rect class="n1" x="2926.8" y="1531.7" width="102" height="54.6" rx="9"/><text><tspan x="2977.8" y="1549.3">Considerar el</tspan><tspan x="2977.8" y="1564">conocimiento</tspan><tspan x="2977.8" y="1578.6">matemático</tspan></text></g>
<g id="n-estructura"><rect class="n1" x="3604.5" y="1044.3" width="109.1" height="39" rx="9"/><text><tspan x="3659" y="1061">Una estructura</tspan><tspan x="3659" y="1075.6">curricular</tspan></text></g>
<g id="n-aprendizaje-mat"><rect class="n2" x="3545.8" y="1121.7" width="226.6" height="56.6" rx="9"/><text><tspan x="3659" y="1139.3">El aprendizaje de las matemáticas</tspan><tspan x="3659" y="1154">debe posibilitar al alumno la</tspan><tspan x="3659" y="1168.3">aplicación de sus conocimientos</tspan></text></g>
<g id="n-teniendo"><rect class="n2" x="3591.8" y="1221.7" width="138.2" height="24.6" rx="8"/><text x="3661" y="1238.3">Teniendo en cuenta</text></g>
<g id="n-conociemiento"><rect class="n1" x="3256" y="1288.3" width="115.8" height="39" rx="9"/><text><tspan x="3313.9" y="1305.3">El conociemiento</tspan><tspan x="3313.9" y="1320">en la escuela</tspan></text></g>
<g id="n-acercamiento"><rect class="n2" x="3248.8" y="1363.3" width="130.3" height="55" rx="9"/><text><tspan x="3314" y="1381.3">El acercamiento de</tspan><tspan x="3314" y="1396">los estudiantes a</tspan><tspan x="3314" y="1410.6">las matemáticas</tspan></text></g>
<g id="n-situaciones"><rect class="n2" x="3225.8" y="1454.3" width="173.9" height="73" rx="9"/><text><tspan x="3312.7" y="1473">situaciones problemáticas</tspan><tspan x="3312.7" y="1487.6">procedentes de la vida</tspan><tspan x="3312.7" y="1502.3">diaria, de las matemáticas</tspan><tspan x="3312.7" y="1517">y de las otras ciencias</tspan></text></g>
<g id="n-bascico"><rect class="n1" x="3605.8" y="1313.3" width="110.9" height="39" rx="9"/><text><tspan x="3661.2" y="1330.3">El conocimiento</tspan><tspan x="3661.2" y="1345">bascico</tspan></text></g>
<g id="n-procesos-especificos"><rect class="n2" x="3567.6" y="1385.3" width="186.6" height="57" rx="9"/><text><tspan x="3661" y="1403.3">tienen que ver con procesos</tspan><tspan x="3661" y="1417.6">específicos que desarrollan</tspan><tspan x="3661" y="1432.3">el pensamiento matemático</tspan></text></g>
<g id="n-numerico"><rect class="n1" x="3431.8" y="1502.3" width="92.1" height="39" rx="9"/><text><tspan x="3478" y="1519">Pensamiento</tspan><tspan x="3478" y="1533.6">numerico</tspan></text></g>
<g id="n-gradual"><rect class="n2" x="3393" y="1574.3" width="174.6" height="71" rx="9"/><text><tspan x="3480.3" y="1591.3">Se adquiere gradual</tspan><tspan x="3480.3" y="1606">mente y va evolucionando</tspan><tspan x="3480.3" y="1620.6">en que los alumnos tienen</tspan><tspan x="3480.3" y="1635.3">la oportunidad de pensar</tspan></text></g>
<g id="n-espacial"><rect class="n1" x="3615.5" y="1487.3" width="92.7" height="41" rx="9"/><text><tspan x="3661.8" y="1504.3">Pensamiento</tspan><tspan x="3661.8" y="1518.6">espacial</tspan></text></g>
<g id="n-geometricos"><rect class="n2" x="3574.8" y="1571.7" width="174" height="72.3" rx="9"/><text><tspan x="3661.8" y="1590">Los sistemas geométricos</tspan><tspan x="3661.8" y="1604.6">se construyen a través</tspan><tspan x="3661.8" y="1619.3">de la exploración activa</tspan><tspan x="3661.8" y="1634">y modelación del espacio</tspan></text></g>
<g id="n-metrico"><rect class="n1" x="3784.5" y="1500.7" width="92.8" height="38.6" rx="9"/><text><tspan x="3830.9" y="1517">Pensamiento</tspan><tspan x="3830.9" y="1531.6">metrico</tspan></text></g>
<g id="n-comienzan"><rect class="n2" x="3754.8" y="1573.3" width="154.6" height="69.4" rx="9"/><text><tspan x="3832" y="1590.3">Comienzan desde las</tspan><tspan x="3832" y="1605">primeras acciones con</tspan><tspan x="3832" y="1619.6">sus éxitos y fracasos</tspan><tspan x="3832" y="1634.3">codificados</tspan></text></g>
<g id="n-razonamiento"><rect class="n1" x="4020.9" y="1456" width="62.4" height="55.7" rx="9"/><text><tspan x="4052" y="1474.3">El</tspan><tspan x="4052" y="1489">razona-</tspan><tspan x="4052" y="1503.3">miento</tspan></text></g>
<g id="n-presente"><rect class="n2" x="3984.5" y="1542.3" width="137.3" height="68.7" rx="9"/><text><tspan x="4053" y="1559.3">Debe estar presente</tspan><tspan x="4053" y="1574">en todo el trabajo</tspan><tspan x="4053" y="1588.6">matemático de</tspan><tspan x="4053" y="1603">los estudiantes</tspan></text></g>
<g id="n-procesos-generales"><rect class="n1" x="4153" y="1277.7" width="91.5" height="40.6" rx="9"/><text><tspan x="4198.8" y="1294.6">Los procesos</tspan><tspan x="4198.8" y="1309">generales</tspan></text></g>
<g id="n-aprendizaje"><rect class="n2" x="4136.8" y="1357.7" width="126.4" height="40.6" rx="9"/><text><tspan x="4200" y="1374.3">tienen que ver</tspan><tspan x="4200" y="1389">con el aprendizaje</tspan></text></g>
<g id="n-comunicacion"><rect class="n1" x="4167.3" y="1447.3" width="64.2" height="55" rx="9"/><text><tspan x="4199.4" y="1465">La</tspan><tspan x="4199.4" y="1479.6">comuni-</tspan><tspan x="4199.4" y="1494.3">cacion</tspan></text></g>
<g id="n-uno-procesos"><rect class="n2" x="4128.7" y="1534.3" width="140.1" height="85" rx="9"/><text><tspan x="4198.8" y="1551.3">Uno de los procesos</tspan><tspan x="4198.8" y="1566">para aprender</tspan><tspan x="4198.8" y="1580.6">matemáticas</tspan><tspan x="4198.8" y="1595.3">y para resolver</tspan><tspan x="4198.8" y="1609.6">problemas.</tspan></text></g>
<g id="n-modelacion"><rect class="n1" x="4319.3" y="1444.3" width="54.8" height="55" rx="9"/><text><tspan x="4346.7" y="1462">La</tspan><tspan x="4346.7" y="1476.6">mode-</tspan><tspan x="4346.7" y="1491.3">lacion</tspan></text></g>
<g id="n-punto"><rect class="n2" x="4280.7" y="1537.3" width="133.9" height="71" rx="9"/><text><tspan x="4347" y="1554.3">El punto de partida</tspan><tspan x="4347" y="1569">de la modelación</tspan><tspan x="4347" y="1583.6">es una situación</tspan><tspan x="4347" y="1598">problemática real.</tspan></text></g>
<g id="n-elementos"><rect class="n1" x="4700.6" y="822.3" width="198.8" height="38.7" rx="9"/><text class="b"><tspan x="4800" y="839.3">Elementos conceptuales en</tspan><tspan x="4800" y="853.6">la formacion de maestros</tspan></text></g>
<g id="n-propuesta"><rect class="n2" x="4707.5" y="929.3" width="184.4" height="57.4" rx="9"/><text><tspan x="4800" y="947.3">Una propuesta conceptual</tspan><tspan x="4800" y="962">que permita a los maestros</tspan><tspan x="4800" y="976.3">desplegar la educación</tspan></text></g>
<g id="n-necesita"><rect class="n2" x="4703.7" y="1028.7" width="194.4" height="38.6" rx="9"/><text><tspan x="4801" y="1045.3">la necesita la sociedad</tspan><tspan x="4801" y="1059.6">colombiana del nuevo milenio</tspan></text></g>
<g id="n-curricular"><rect class="n1" x="4557.9" y="1136.7" width="109.1" height="56.6" rx="9"/><text><tspan x="4612.5" y="1154.3">El conocimiento</tspan><tspan x="4612.5" y="1169">curricular</tspan><tspan x="4612.5" y="1183.6">para el profesor</tspan></text></g>
<g id="n-caracterizacion"><rect class="n2" x="4528.7" y="1232.3" width="168.2" height="55" rx="9"/><text><tspan x="4612.8" y="1250.3">una caracterización de</tspan><tspan x="4612.8" y="1264.6">la institución en la cual</tspan><tspan x="4612.8" y="1279.3">se desarrolla su actividad</tspan></text></g>
<g id="n-satisfaccion"><rect class="n2" x="4522.4" y="1330.7" width="180.7" height="56.6" rx="9"/><text><tspan x="4612.8" y="1348.3">pretende la satisfacción</tspan><tspan x="4612.8" y="1363">de formación, establecidas</tspan><tspan x="4612.8" y="1377.3">previamente.</tspan></text></g>
<g id="n-sobre-estructura"><rect class="n1" x="4761" y="1128.3" width="76.7" height="39" rx="9"/><text><tspan x="4799.4" y="1145">Sobre la</tspan><tspan x="4799.4" y="1159.6">estructura</tspan></text></g>
<g id="n-interpretacion"><rect class="n2" x="4730.5" y="1207.7" width="140.2" height="86.6" rx="9"/><text><tspan x="4800.6" y="1226.3">una interpretación</tspan><tspan x="4800.6" y="1241">de lo establecido en</tspan><tspan x="4800.6" y="1255.3">los fundamentos de</tspan><tspan x="4800.6" y="1270">los indicadores</tspan><tspan x="4800.6" y="1284.3">de logros</tspan></text></g>
<g id="n-cualitativo"><rect class="n2" x="4731.8" y="1339.3" width="138.3" height="55" rx="9"/><text><tspan x="4801" y="1357.3">tiene que</tspan><tspan x="4801" y="1371.6">ver con el elemento</tspan><tspan x="4801" y="1386.3">cualitativo.</tspan></text></g>
<g id="n-politica"><rect class="n1" x="4936.8" y="1140" width="104" height="39.3" rx="9"/><text><tspan x="4988.8" y="1157.3">Una politica de</tspan><tspan x="4988.8" y="1172">formacion</tspan></text></g>
<g id="n-relaciones"><rect class="n2" x="4905.6" y="1220.3" width="168.2" height="85" rx="9"/><text><tspan x="4989.7" y="1237.3">las relaciones entre</tspan><tspan x="4989.7" y="1252">el maestro, los alumnos,</tspan><tspan x="4989.7" y="1266.3">la matemática escolar y</tspan><tspan x="4989.7" y="1281">la institución sean</tspan><tspan x="4989.7" y="1295.6">replanteadas</tspan></text></g>
<g id="n-formacion"><rect class="n2" x="4905.6" y="1341.3" width="168.2" height="85.4" rx="9"/><text><tspan x="4989.7" y="1360">la formación de maestros</tspan><tspan x="4989.7" y="1374.6">debe constituirse en el</tspan><tspan x="4989.7" y="1389">espacio óptimo para</tspan><tspan x="4989.7" y="1403.6">generar este tipo</tspan><tspan x="4989.7" y="1418.3">de reflexiones.</tspan></text></g>
</g>
</g>
</svg>
